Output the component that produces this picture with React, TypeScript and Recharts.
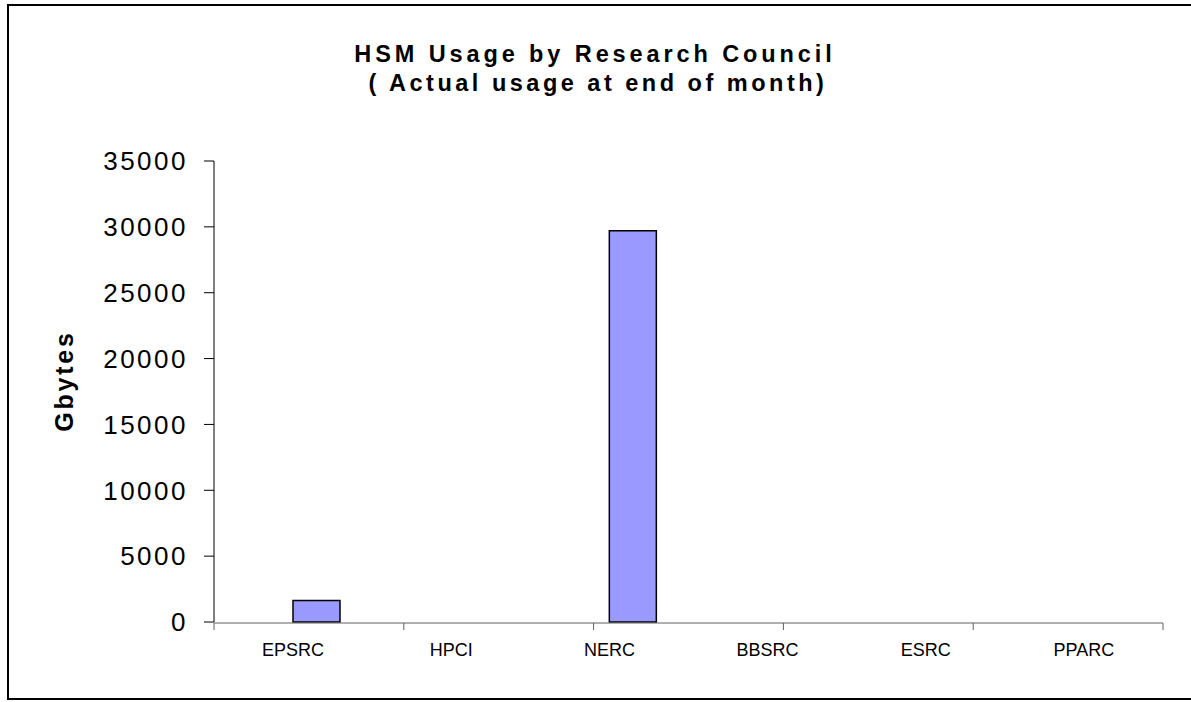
import { BarChart, Bar, XAxis, YAxis } from "recharts";

// HSM usage per research council, Gbytes at end of month
const councils = ["EPSRC", "HPCI", "NERC", "BBSRC", "ESRC", "PPARC"];
const usageGb = [1640, 0, 29700, 0, 0, 0];
// the original sheet had a second (empty) series sitting left of the visible bars
const emptySeries = [0, 0, 0, 0, 0, 0];
const yTicks = [0, 5000, 10000, 15000, 20000, 25000, 30000, 35000];
const bandEdges = [0, 1, 2, 3, 4, 5, 6];

const data = councils.map((council, i) => ({
  council,
  empty: emptySeries[i],
  usage: usageGb[i],
}));

const FONT = '"Liberation Sans", Arial, sans-serif';

export default function App() {
  return (
    <div
      style={{
        position: "fixed",
        inset: 0,
        overflow: "hidden",
        background: "#fff",
        fontFamily: FONT,
      }}
    >
      {/* chart frame, right edge falls outside the picture */}
      <div
        style={{
          position: "absolute",
          left: 7,
          top: 4,
          width: 1240,
          height: 696,
          borderTop: "2px solid #000",
          borderLeft: "2px solid #000",
          borderBottom: "2px solid #000",
          boxSizing: "border-box",
        }}
      />
      <div
        style={{
          position: "absolute",
          left: 0,
          width: 1190,
          top: 40,
          textAlign: "center",
          fontWeight: "bold",
          fontSize: 23.5,
          lineHeight: "29px",
          color: "#000",
        }}
      >
        <div style={{ letterSpacing: 3.9 }}>HSM Usage by Research Council</div>
        <div style={{ letterSpacing: 3.5, paddingLeft: 6 }}>( Actual usage at end of month)</div>
      </div>
      <div
        style={{
          position: "absolute",
          left: 64,
          top: 381,
          transform: "translate(-50%, -50%) rotate(-90deg)",
          fontWeight: "bold",
          fontSize: 25,
          letterSpacing: 2.8,
          whiteSpace: "nowrap",
          color: "#000",
        }}
      >
        Gbytes
      </div>
      <div style={{ position: "absolute", left: 0, top: 0 }}>
        <BarChart
          width={1191}
          height={702}
          data={data}
          margin={{ top: 161, right: 28, bottom: 50, left: 114 }}
          barGap={0}
        >
          <XAxis
            dataKey="council"
            interval={0}
            axisLine={false}
            tickLine={false}
            tickSize={0}
            tickMargin={21}
            height={1}
            tick={{ fontSize: 18, fill: "#000", fontFamily: FONT }}
          />
          <XAxis
            xAxisId="edges"
            type="number"
            domain={[0, 6]}
            ticks={bandEdges}
            interval={0}
            allowDataOverflow
            height={29}
            tickSize={7}
            tickFormatter={() => ""}
            stroke="#606060"
          />
          <YAxis
            domain={[0, 35000]}
            ticks={yTicks}
            interval={0}
            width={100}
            tickSize={10}
            tickMargin={16}
            stroke="#000"
            tick={{ fontSize: 26, fill: "#000", fontFamily: FONT, letterSpacing: 2.5 }}
          />
          <Bar dataKey="empty" barSize={47} fill="#9999ff" stroke="#000" strokeWidth={1.5} isAnimationActive={false} />
          <Bar dataKey="usage" barSize={47} fill="#9999ff" stroke="#000" strokeWidth={1.5} isAnimationActive={false} />
        </BarChart>
      </div>
    </div>
  );
}
